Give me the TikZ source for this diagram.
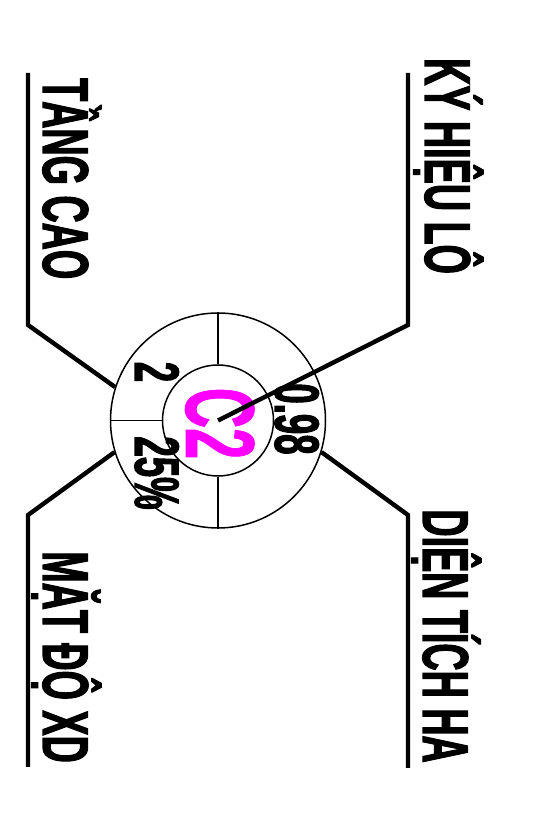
\documentclass[tikz,border=0pt]{standalone}
\usepackage{fontspec}
\newfontfamily\narrowfont{Liberation Sans}[FakeStretch=0.58,FakeBold=1.6]
\newfontfamily\narrowfontb{Liberation Sans}[FakeStretch=0.57,FakeBold=0.8]
\definecolor{codemag}{RGB}{255,0,255}
\begin{document}
\begin{tikzpicture}[x=1pt,y=1pt,
  ring/.style={draw=black,line width=1.5pt},
  leader/.style={draw=black,line width=4.4pt,line join=miter},
  lbl/.style={inner sep=0pt,rotate=-90,font=\narrowfont\bfseries\fontsize{65}{70}\selectfont},
  val/.style={inner sep=0pt,rotate=-90,font=\narrowfont\bfseries\fontsize{63}{66}\selectfont},
  code/.style={inner sep=0pt,rotate=-90,text=codemag,font=\narrowfontb\bfseries\fontsize{98}{100}\selectfont}]
\useasboundingbox[fill=white] (0,0) rectangle (542,813);
% circles
\coordinate (c) at (218,392.5);
\node[ring,circle,minimum size=215pt,inner sep=0pt] (outer) at (c) {};
\node[ring,circle,minimum size=111pt,inner sep=0pt] (inner) at (c) {};
\draw[ring] (outer.north) -- (inner.north);
\draw[ring] (outer.south) -- (inner.south);
\draw[ring] (outer.west) -- (inner.west);
% texts in ring
\node[code,anchor=base] (code) at (186,389.5) {C2};
\node[val,anchor=base] (area) at (275,394) {0.98};
\node[val,anchor=base] (floors) at (135,441) {2};
\node[val,anchor=base] (dens) at (135,340) {25\%};
% leader corners
\coordinate (kyc) at (408,488);
\coordinate (kyt) at (408,740);
\coordinate (tgc) at (28,488);
\coordinate (tgt) at (28,740);
\coordinate (mdc) at (28,298);
\coordinate (mdb) at (28,46);
\coordinate (dtc) at (408,298);
\coordinate (dtb) at (408,45);
\draw[leader] (c) -- (kyc) -- (kyt);
\draw[leader] (outer.162.8) -- (tgc) -- (tgt);
\draw[leader] (outer.197.2) -- (mdc) -- (mdb);
\draw[leader] (outer.-17.2) -- (dtc) -- (dtb);
% labels
\node[lbl,anchor=base west] (ky) at (425,755) {KÝ HIỆU LÔ};
\node[lbl,anchor=base west] (tg) at (43,735) {TẦNG CAO};
\node[lbl,anchor=base east] (dt) at (423,50) {DIỆN TÍCH HA};
\node[lbl,anchor=base east] (md) at (43,50) {MẶT ĐỘ XD};
\end{tikzpicture}
\end{document}
